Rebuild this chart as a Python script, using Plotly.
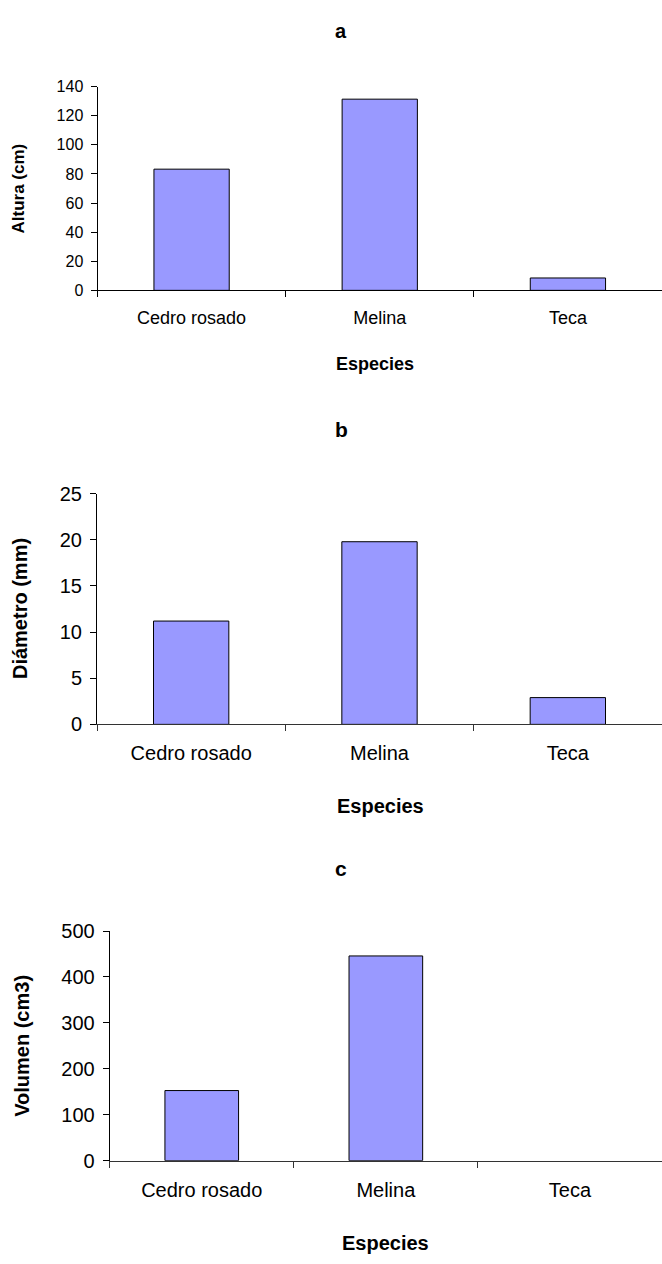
import plotly.graph_objects as go

# Data: growth of three tree species
especies = ["Cedro rosado", "Melina", "Teca"]
altura_cm = [83.3, 131.4, 8.5]
diametro_mm = [11.2, 19.8, 2.9]
volumen_cm3 = [152.6, 445.7, 0.0]

panel_letters = ["a", "b", "c"]
y_titles = ["Altura (cm)", "Diámetro (mm)", "Volumen (cm3)"]
x_title = "Especies"
y_ranges = [[0, 140], [0, 25], [0, 500]]
y_dticks = [20, 5, 100]

W, H = 662, 1264
FONT = "Arial, 'Liberation Sans', sans-serif"
BAR_COLOR = "#9999FF"


def px_x(v):
    return v / W


def px_y(v):
    return 1 - v / H


# Panel geometry (pixels): left, right, top, bottom of each plot area
panels = [
    dict(l=97.5, r=662, t=77, b=284.3, ytick=16, xtick=18, ytitle=17, xtitle=18, letter=20,
         axcolor="#000000", letter_y=20, xtitle_y=359, ytitle_x=19, xtitle_x=375),
    dict(l=97, r=662, t=491.3, b=726, ytick=20, xtick=20, ytitle=20, xtitle=20, letter=21,
         axcolor="#333333", letter_y=426, xtitle_y=809, ytitle_x=20, xtitle_x=380),
    dict(l=109.7, r=662, t=936.3, b=1170, ytick=20, xtick=20, ytitle=20, xtitle=20, letter=21,
         axcolor="#333333", letter_y=873, xtitle_y=1254, ytitle_x=22, xtitle_x=385),
]

series = [altura_cm, diametro_mm, volumen_cm3]

fig = go.Figure()
annotations = []
layout_axes = {}

for i, (vals, p) in enumerate(zip(series, panels)):
    n = "" if i == 0 else str(i + 1)
    # empty bars get no outline so nothing is drawn on the baseline
    outline_widths = [1 if v > 0 else 0 for v in vals]
    fig.add_trace(go.Bar(
        x=especies, y=vals,
        xaxis="x" + n, yaxis="y" + n,
        width=0.4,
        marker=dict(color=BAR_COLOR, line=dict(color="#000000", width=outline_widths)),
        showlegend=False,
    ))
    layout_axes["xaxis" + n] = dict(
        domain=[px_x(p["l"]), px_x(p["r"])],
        anchor="y" + n,
        type="category",
        range=[-0.5, 2.5],
        showline=True, linecolor=p["axcolor"], linewidth=1,
        ticks="outside", tickson="boundaries", ticklen=6, tickcolor=p["axcolor"],
        tickfont=dict(family=FONT, size=p["xtick"], color="#000000"),
        ticklabelstandoff=11,
        showgrid=False, zeroline=False, fixedrange=True,
    )
    layout_axes["yaxis" + n] = dict(
        domain=[px_y(p["b"]), px_y(p["t"])],
        anchor="x" + n,
        range=y_ranges[i], dtick=y_dticks[i], tick0=0,
        showline=True, linecolor="#000000", linewidth=1,
        ticks="outside", ticklen=6, tickcolor="#000000",
        tickfont=dict(family=FONT, size=p["ytick"], color="#000000"),
        ticklabelstandoff=4,
        showgrid=False, zeroline=False, fixedrange=True,
    )
    # panel letter
    annotations.append(dict(
        text="<b>%s</b>" % panel_letters[i], xref="paper", yref="paper",
        x=px_x(341), y=px_y(p["letter_y"]), xanchor="center", yanchor="middle",
        showarrow=False, font=dict(family=FONT, size=p["letter"], color="#000000"),
    ))
    # x axis title
    annotations.append(dict(
        text="<b>%s</b>" % x_title, xref="paper", yref="paper",
        x=px_x(p["xtitle_x"]), y=px_y(p["xtitle_y"]), xanchor="center", yanchor="middle",
        showarrow=False, font=dict(family=FONT, size=p["xtitle"], color="#000000"),
    ))
    # y axis title
    annotations.append(dict(
        text="<b>%s</b>" % y_titles[i], xref="paper", yref="paper",
        x=px_x(p["ytitle_x"]), y=px_y((p["t"] + p["b"]) / 2), xanchor="center", yanchor="middle",
        textangle=-90,
        showarrow=False, font=dict(family=FONT, size=p["ytitle"], color="#000000"),
    ))

fig.update_layout(
    width=W, height=H,
    margin=dict(l=0, r=0, t=0, b=0),
    paper_bgcolor="white", plot_bgcolor="white",
    annotations=annotations,
    bargap=0.6,
    **layout_axes,
)

fig.write_html("out.html")
